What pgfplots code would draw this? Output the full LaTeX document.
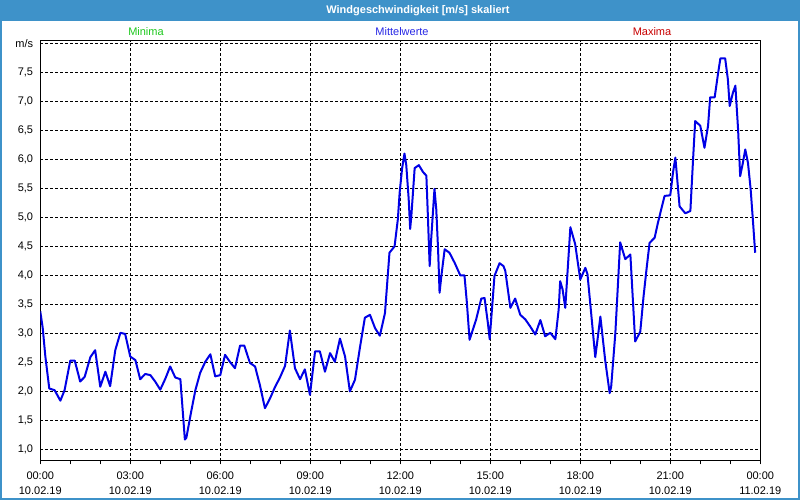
\documentclass[border=0pt]{standalone}
\usepackage{pgfplots}
\pgfplotsset{compat=1.18}
\usepackage{fontspec}
\setmainfont{Liberation Sans}
\definecolor{winblue}{RGB}{62,146,201}
\definecolor{linecol}{RGB}{0,0,230}
\definecolor{mingreen}{RGB}{30,200,30}
\definecolor{maxred}{RGB}{200,0,0}
\definecolor{midblue}{RGB}{40,40,230}
\begin{document}
\begin{tikzpicture}
\path[use as bounding box] (0pt,0pt) rectangle (600pt,375pt);
\fill[winblue] (0pt,0pt) rectangle (600pt,375pt);
\fill[white] (1.5pt,1.5pt) rectangle (598.5pt,359.25pt);
\node[white,font=\fontsize{8.25}{10}\selectfont\bfseries] at (313.5pt,367pt) {Windgeschwindigkeit [m/s] skaliert};
\node[mingreen,font=\fontsize{8.25}{10}\selectfont] at (109.5pt,351pt) {Minima};
\node[midblue,font=\fontsize{8.25}{10}\selectfont] at (301.5pt,351pt) {Mittelwerte};
\node[maxred,font=\fontsize{8.25}{10}\selectfont] at (489pt,351pt) {Maxima};
\begin{axis}[
  at={(300.2pt,186.85pt)}, anchor=center, scale only axis,
  width=540pt, height=315.2pt,
  xmin=0, xmax=24, ymin=0.8, ymax=8.045,
  axis line style={black, line width=0.75pt},
  xtick={0,3,6,9,12,15,18,21,24},
  minor xtick={1,2,4,5,7,8,10,11,13,14,16,17,19,20,22,23},
  xticklabels={{00:00\\10.02.19},{03:00\\10.02.19},{06:00\\10.02.19},{09:00\\10.02.19},{12:00\\10.02.19},{15:00\\10.02.19},{18:00\\10.02.19},{21:00\\10.02.19},{00:00\\11.02.19}},
  ytick={1,1.5,2,2.5,3,3.5,4,4.5,5,5.5,6,6.5,7,7.5,8},
  yticklabels={{1,0},{1,5},{2,0},{2,5},{3,0},{3,5},{4,0},{4,5},{5,0},{5,5},{6,0},{6,5},{7,0},{7,5},{m/s}},
  xtick pos=bottom, ytick pos=left,
  tick align=outside,
  major tick length=2.5pt, minor tick length=2.5pt,
  xtick style={black, line width=0.75pt},
  ytick style={draw=none},
  grid=major,
  major grid style={black, line width=0.75pt, dash pattern=on 2.25pt off 1.5pt},
  xticklabel style={align=center, font=\fontsize{8.25}{11.25}\selectfont, inner sep=0pt, yshift=-5.5pt},
  yticklabel style={font=\fontsize{8.25}{10}\selectfont, inner sep=0pt, xshift=-2.7pt},
]
\addplot[linecol, line width=1.5pt, line join=round] table {
0 3.38
0.08 3.10
0.17 2.60
0.3 2.05
0.48 2.02
0.67 1.84
0.81 2.02
1.0 2.53
1.15 2.53
1.33 2.17
1.48 2.25
1.67 2.59
1.83 2.71
2.0 2.08
2.17 2.34
2.33 2.09
2.5 2.71
2.67 3.01
2.83 2.99
3.0 2.60
3.17 2.54
3.33 2.21
3.5 2.30
3.67 2.28
3.83 2.17
4.0 2.03
4.17 2.22
4.33 2.43
4.5 2.24
4.67 2.21
4.82 1.17
4.87 1.20
5.03 1.65
5.17 2.02
5.33 2.32
5.5 2.51
5.67 2.64
5.83 2.26
6.0 2.28
6.16 2.63
6.32 2.51
6.49 2.40
6.66 2.79
6.8 2.79
6.99 2.49
7.16 2.43
7.32 2.11
7.49 1.71
7.66 1.88
7.82 2.07
7.99 2.24
8.16 2.44
8.32 3.05
8.49 2.40
8.66 2.21
8.82 2.38
8.99 1.94
9.16 2.69
9.32 2.69
9.49 2.34
9.66 2.66
9.82 2.51
9.99 2.91
10.16 2.60
10.32 2.00
10.49 2.20
10.66 2.77
10.82 3.27
10.99 3.32
11.16 3.09
11.32 2.96
11.49 3.35
11.64 4.39
11.81 4.50
11.92 4.97
11.98 5.43
12.06 5.84
12.14 6.10
12.2 5.90
12.28 5.32
12.33 4.80
12.37 5.03
12.48 5.85
12.62 5.90
12.76 5.78
12.87 5.72
12.92 5.03
12.98 4.16
13.03 4.62
13.14 5.49
13.2 5.14
13.26 4.45
13.31 3.70
13.37 3.99
13.48 4.45
13.64 4.39
13.81 4.22
14.0 4.00
14.14 4.00
14.22 3.53
14.31 2.89
14.53 3.24
14.7 3.60
14.81 3.61
14.92 3.18
14.98 2.90
15.09 3.64
15.14 3.99
15.31 4.21
15.44 4.16
15.5 4.08
15.67 3.44
15.83 3.60
16.0 3.32
16.17 3.24
16.33 3.12
16.5 2.98
16.67 3.23
16.83 2.95
17.0 3.01
17.17 2.90
17.28 3.41
17.33 3.90
17.41 3.76
17.5 3.44
17.67 4.83
17.83 4.54
17.91 4.25
18.0 3.93
18.17 4.13
18.24 4.02
18.33 3.53
18.5 2.59
18.56 2.83
18.67 3.29
18.83 2.54
18.98 1.97
19.03 2.08
19.17 3.01
19.33 4.57
19.5 4.28
19.67 4.36
19.83 2.86
20.0 3.03
20.11 3.64
20.22 4.16
20.31 4.56
20.48 4.65
20.59 4.91
20.7 5.14
20.81 5.37
21.0 5.38
21.09 5.77
21.17 6.03
21.31 5.19
21.5 5.07
21.67 5.11
21.76 6.00
21.83 6.66
22.0 6.58
22.14 6.20
22.26 6.58
22.33 7.07
22.48 7.07
22.59 7.47
22.67 7.74
22.83 7.74
22.92 7.38
22.98 6.92
23.09 7.15
23.17 7.27
23.26 6.52
23.33 5.71
23.42 5.94
23.5 6.17
23.59 5.94
23.68 5.48
23.76 4.91
23.83 4.39
};
\end{axis}
\end{tikzpicture}
\end{document}
